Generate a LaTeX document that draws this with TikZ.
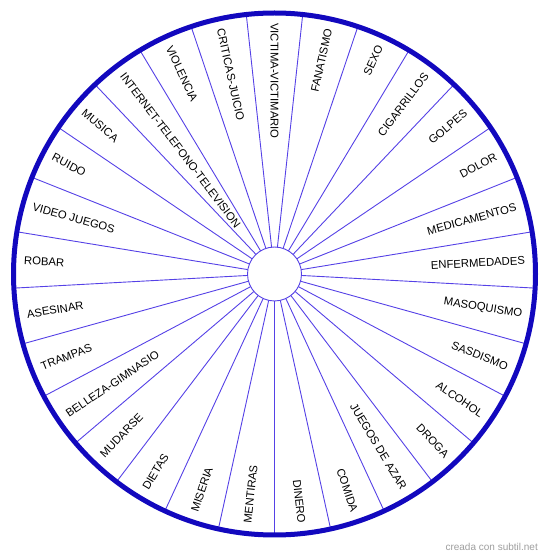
\documentclass[tikz,border=0pt]{standalone}
\usepackage{fontspec}
\setmainfont{Liberation Sans}
\definecolor{rimblue}{RGB}{18,8,190}
\definecolor{spokeblue}{RGB}{85,65,230}
\begin{document}
\begin{tikzpicture}[x=1pt,y=1pt,
  lbl/.style={inner sep=0pt, font=\fontsize{11.3}{13}\selectfont, text=black},
  spoke/.style={draw=spokeblue, line width=0.9pt},
  rim/.style={draw=rimblue, line width=5pt}]
\useasboundingbox (0,0) rectangle (550,558);
\coordinate (c) at (274.5,284);
\def\secang{12.4137931}
\foreach \i in {0,...,28}{
  \pgfmathsetmacro\sa{90+\secang/2+\i*\secang}
  \draw[spoke] ([shift={(\sa:27)}]c) -- ([shift={(\sa:261)}]c);
}
\node[circle, draw=spokeblue, line width=0.9pt, fill=white, minimum size=54pt, inner sep=0pt] (hub) at (c) {};
\draw[rim] (c) circle (261);
\foreach \t [count=\k from 0] in {VICTIMA-VICTIMARIO,FANATISMO,SEXO,CIGARRILLOS,GOLPES,DOLOR,MEDICAMENTOS,ENFERMEDADES,MASOQUISMO,SASDISMO,ALCOHOL,DROGA,JUEGOS DE AZAR,COMIDA,DINERO,MENTIRAS,MISERIA,DIETAS,MUDARSE,BELLEZA-GIMNASIO,TRAMPAS,ASESINAR,ROBAR,VIDEO JUEGOS,RUIDO,MUSICA,INTERNET-TELEFONO-TELEVISION,VIOLENCIA,CRITICAS-JUICIO}{
  \pgfmathsetmacro\ang{90-\k*\secang}
  \pgfmathsetmacro\cs{cos(\ang)}
  \pgfmathsetmacro\rot{\ang+180}
  \ifdim \cs pt > 0.001pt
    \node[lbl, anchor=east, rotate=\ang] (l\k) at ([shift={(\ang:251)}]c) {\t};
  \else
    \node[lbl, anchor=west, rotate=\rot] (l\k) at ([shift={(\ang:251)}]c) {\t};
  \fi
}
\node[anchor=east, inner sep=0pt, text=black!38, font=\fontsize{10}{12}\selectfont] (wm) at (538,11) {creada con subtil.net};
\end{tikzpicture}
\end{document}
